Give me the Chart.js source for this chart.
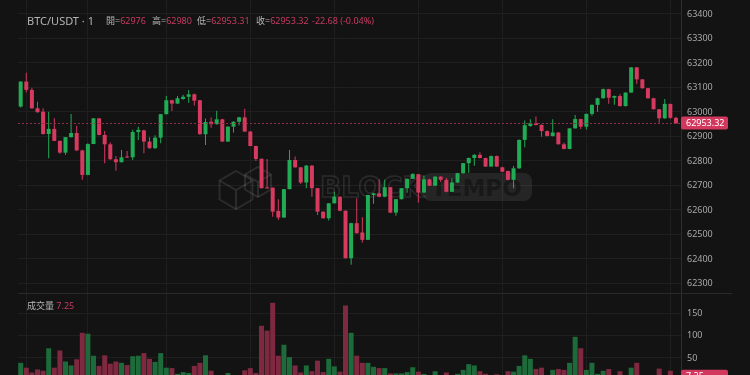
<!DOCTYPE html>
<html>
<head>
<meta charset="utf-8">
<script src="https://cdn.jsdelivr.net/npm/chart.js@4"></script>
<style>
html, body { margin: 0; background: #131313; }
#wrap { position: relative; width: 750px; height: 375px; overflow: hidden; background: #131313;
  font-family: "Noto Sans", "Noto Sans CJK TC", sans-serif; }
canvas { position: absolute; left: 0; }
#price { top: 0; }
#vol { top: 294px; }
.sep { position: absolute; left: 18px; top: 293px; width: 714px; height: 1px; background: #2a2a2a; }
.lbl { position: absolute; font-size: 9px; color: #b4b4b4; white-space: nowrap; line-height: 12px; }
.big { font-size: 11px; }
.red { color: #c93a60; }
</style>
</head>
<body>
<div id="wrap">
  <canvas id="price" width="750" height="293"></canvas>
  <div class="sep"></div>
  <canvas id="vol" width="750" height="81"></canvas>
  <div id="hdr"></div>
</div>
<script>
// 1 minute candles, oldest first
const openP = [63022,63124,63090,63015,63001,62910,62931,62882,62834,62897,62914,62843,62743,62869,62974,62906,62868,62807,62795,62818,
  62815,62918,62925,62879,62852,62895,62991,63048,63034,63053,63062,63072,63048,62909,62960,62950,62970,62879,62940,62960,
  62978,62920,62861,62809,62690,62691,62596,62569,62685,62804,62774,62712,62781,62689,62593,62566,62627,62654,62597,62403,
  62546,62508,62478,62661,62668,62654,62693,62589,62644,62689,62727,62746,62671,62725,62699,62736,62723,62674,62712,62750,
  62791,62812,62825,62812,62777,62820,62774,62759,62723,62770,62886,62943,62954,62947,62922,62902,62916,62868,62849,62933,
  62971,62940,62992,63029,63056,63093,63058,63065,63024,63079,63182,63133,63097,63056,63011,62974,63033,62976];
const highP = [63125,63160,63099,63042,63015,63001,62974,62884,62898,62992,62944,62846,62872,62975,62975,62922,62875,62820,62845,62841,
  62927,62940,62927,62897,62905,62992,63065,63050,63065,63070,63090,63075,63048,62973,62977,63005,62972,62942,62962,62980,
  63013,62922,62862,62810,62808,62692,62644,62686,62845,62818,62775,62783,62782,62690,62595,62628,62674,62656,62598,62548,
  62648,62570,62662,62670,62725,62723,62694,62645,62690,62728,62750,62747,62740,62727,62738,62738,62730,62729,62752,62792,
  62814,62827,62836,62813,62822,62822,62776,62760,62779,62888,62965,62970,62981,62950,62924,62970,62918,62875,62934,62988,
  62972,62994,63030,63058,63096,63095,63067,63073,63080,63184,63184,63135,63098,63058,63012,63053,63034,62980];
const lowP = [63018,63079,63013,62997,62908,62811,62880,62829,62825,62896,62842,62723,62742,62869,62905,62791,62805,62760,62794,62812,
  62804,62886,62831,62850,62850,62872,62990,63004,63034,63050,63038,63026,62908,62865,62936,62949,62878,62878,62916,62946,
  62919,62860,62800,62688,62687,62572,62559,62568,62684,62772,62706,62689,62654,62579,62565,62557,62626,62595,62402,62376,
  62504,62467,62477,62625,62652,62652,62588,62576,62643,62670,62726,62630,62670,62698,62698,62714,62672,62673,62710,62749,
  62752,62780,62810,62775,62776,62776,62754,62720,62689,62768,62856,62940,62945,62899,62900,62900,62867,62848,62848,62932,
  62930,62928,62985,63001,63055,63033,63029,63022,63022,63078,63114,63095,63054,63010,62956,62972,62972,62953.31];
const closeP = [63124,63090,63015,62999,62910,62931,62882,62834,62897,62914,62843,62743,62869,62974,62906,62868,62807,62795,62815,62814,
  62918,62927,62879,62852,62895,62991,63048,63034,63056,63062,63072,63046,62909,62959,62950,62970,62879,62940,62960,62978,
  62920,62861,62808,62689,62688,62593,62569,62685,62804,62774,62712,62781,62689,62593,62566,62627,62654,62597,62403,62546,
  62505,62478,62661,62668,62654,62693,62589,62644,62689,62727,62747,62671,62725,62699,62736,62723,62674,62712,62750,62791,
  62812,62825,62812,62777,62820,62777,62756,62723,62770,62886,62946,62954,62947,62922,62902,62916,62868,62849,62933,62971,
  62940,62992,63029,63056,63093,63058,63065,63024,63079,63182,63133,63097,63056,63011,62974,63033,62976,62953.32];
const volume = [39,28,17,24,21,72,28,67,42,33,47,107,105,55,32,56,37,42,39,34,
  54,55,61,48,41,61,28,27,14,18,16,32,39,56,21,8,6,16,8,9,
  22,27,16,123,112,175,55,80,52,33,17,33,20,44,18,48,31,19,169,107,
  55,39,39,30,27,27,15,15,15,18,29,19,14,8,20,6,17,8,14,23,
  36,33,20,14,8,13,8,20,19,32,56,48,25,28,8,23,25,23,39,98,
  72,23,39,14,21,25,8,20,8,28,39,8,9,7,26,8,21,7.25];
const priceTicks = [62300,62400,62500,62600,62700,62800,62900,63000,63100,63200,63300,63400];
const volTicks = [50,100,150];
const gridIdx = [1,12,26,41,56,71,86,101,116];

const GREEN = '#22ab55', RED = '#d63a5f';
const VGREEN = '#1d6a3a', VRED = '#7e2940';
const GRID = '#1f1f1f', AXIS = '#2a2e39', TXT = '#a8a8a8';

const idx = openP.map((_, i) => i);
const isUp = idx.map(i => closeP[i] >= openP[i]);
const last = idx.length - 1;

const xScale = {
  type: 'linear', min: -0.48, max: 117.9, offset: false,
  ticks: { display: false },
  grid: { color: GRID, drawTicks: false, offset: false },
  border: { display: false },
  afterBuildTicks: s => { s.ticks = gridIdx.map(v => ({ value: v })); }
};
const yScale = (min, max, ticks) => ({
  position: 'right', min: min, max: max, beginAtZero: false,
  afterBuildTicks: s => { s.ticks = ticks.map(v => ({ value: v })); },
  afterFit: s => { s.width = 69; s.paddingTop = 0; s.paddingBottom = 0; },
  ticks: { color: TXT, padding: 6, font: { size: 9, family: 'Noto Sans' }, callback: v => String(v) },
  grid: { color: GRID, drawTicks: false },
  border: { color: AXIS }
});

function tag(ctx, y, text) {
  ctx.fillStyle = '#d2385e';
  ctx.beginPath();
  ctx.roundRect(681, y - 7, 47, 13, 2);
  ctx.fill();
  ctx.fillStyle = '#ffffff';
  ctx.font = '9px "Noto Sans"';
  ctx.textBaseline = 'middle';
  ctx.fillText(text, 686, y);
}

const watermark = {
  id: 'watermark',
  beforeDatasetsDraw(chart) {
    const c = chart.ctx;
    c.save();
    c.strokeStyle = 'rgba(255,255,255,0.10)';
    c.lineWidth = 2;
    // cube logo
    const hex = (cx, cy, r) => {
      c.beginPath();
      for (let k = 0; k < 6; k++) {
        const a = Math.PI / 3 * k - Math.PI / 2;
        c.lineTo(cx + r * Math.cos(a), cy + r * Math.sin(a));
      }
      c.closePath();
      c.stroke();
      c.beginPath();
      c.moveTo(cx - r * 0.87, cy - r / 2); c.lineTo(cx, cy); c.lineTo(cx + r * 0.87, cy - r / 2);
      c.moveTo(cx, cy); c.lineTo(cx, cy + r);
      c.stroke();
    };
    hex(236, 190, 19);
    hex(258, 182, 15);
    c.lineWidth = 1.5;
    c.font = 'bold 28px "DejaVu Sans"';
    c.strokeText('BLOCK', 320, 197);
    c.fillStyle = 'rgba(255,255,255,0.08)';
    c.beginPath();
    c.roundRect(423, 173, 109, 28, 8);
    c.fill();
    c.fillStyle = 'rgba(0,0,0,0.35)';
    c.font = 'bold 23px "DejaVu Sans"';
    c.fillText('TEMPO', 431, 196);
    c.restore();
  }
};

const lastPrice = {
  id: 'lastPrice',
  afterDraw(chart) {
    const c = chart.ctx, a = chart.chartArea;
    const y = Math.round(chart.scales.y.getPixelForValue(closeP[last])) + 0.5;
    c.save();
    c.strokeStyle = '#8a3048';
    c.setLineDash([2, 2]);
    c.beginPath();
    c.moveTo(a.left, y); c.lineTo(a.right, y);
    c.stroke();
    c.setLineDash([]);
    tag(c, y, closeP[last].toFixed(2));
    c.restore();
  }
};

const lastVol = {
  id: 'lastVol',
  afterDraw(chart) {
    const c = chart.ctx;
    const y = chart.scales.y.getPixelForValue(volume[last]);
    c.save();
    tag(c, y, String(volume[last]));
    c.restore();
  }
};

new Chart(document.getElementById('price'), {
  type: 'bar',
  data: {
    datasets: [
      {
        data: idx.map(i => ({ x: i, y: [openP[i], closeP[i]] })),
        backgroundColor: idx.map(i => isUp[i] ? GREEN : RED),
        barThickness: 4, minBarLength: 1, grouped: false, inflateAmount: 0
      },
      {
        data: idx.map(i => ({ x: i, y: [lowP[i], highP[i]] })),
        backgroundColor: idx.map(i => isUp[i] ? GREEN : RED),
        barThickness: 1, grouped: false, inflateAmount: 0
      }
    ]
  },
  options: {
    responsive: false,
    animation: false,
    layout: { padding: { left: 18, top: 0, bottom: 0, right: 0 }, autoPadding: false },
    plugins: { legend: { display: false }, tooltip: { enabled: false } },
    scales: { x: xScale, y: yScale(62261, 63457, priceTicks) }
  },
  plugins: [watermark, lastPrice]
});

new Chart(document.getElementById('vol'), {
  type: 'bar',
  data: {
    datasets: [{
      data: idx.map(i => ({ x: i, y: volume[i] })),
      backgroundColor: idx.map(i => isUp[i] ? VGREEN : VRED),
      barThickness: 5, grouped: false, inflateAmount: 0
    }]
  },
  options: {
    responsive: false,
    animation: false,
    layout: { padding: { left: 18, top: 0, bottom: 0, right: 0 }, autoPadding: false },
    plugins: { legend: { display: false }, tooltip: { enabled: false } },
    scales: { x: xScale, y: yScale(11.4, 195, volTicks) }
  },
  plugins: [lastVol]
});

// header texts from the last candle
const chg = closeP[last] - openP[last];
const pct = chg / openP[last] * 100;
const hdr = [
  [27, '<span class="big">BTC/USDT · 1</span>'],
  [106, '開=<span class="red">' + openP[last] + '</span>'],
  [152, '高=<span class="red">' + highP[last] + '</span>'],
  [197, '低=<span class="red">' + lowP[last].toFixed(2) + '</span>'],
  [256, '收=<span class="red">' + closeP[last].toFixed(2) + '</span>'],
  [312, '<span class="red">' + chg.toFixed(2) + ' (' + pct.toFixed(2) + '%)</span>']
];
let html = hdr.map(h => '<div class="lbl" style="left:' + h[0] + 'px;top:15px">' + h[1] + '</div>').join('');
html += '<div class="lbl" style="left:27px;top:300px">成交量 <span class="red">' + volume[last] + '</span></div>';
document.getElementById('hdr').innerHTML = html;
</script>
</body>
</html>
